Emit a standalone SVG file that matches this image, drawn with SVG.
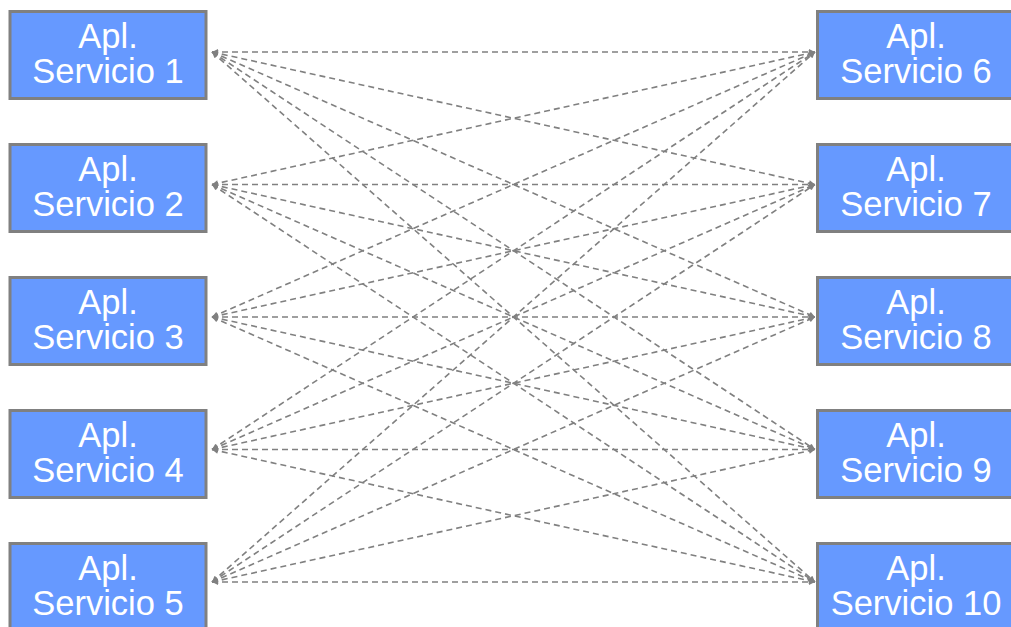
<svg xmlns="http://www.w3.org/2000/svg" width="1011" height="627" viewBox="0 0 1011 627">
<style>
.box{fill:#6699ff;stroke:#808080;stroke-width:3}
.t{font-family:"Liberation Sans",Arial,sans-serif;font-size:34.5px;fill:#ffffff;text-anchor:middle}
.c{stroke:#808080;stroke-width:1.6;stroke-dasharray:6,4;fill:none;marker-start:url(#ah);marker-end:url(#ah)}
</style>
<defs>
<marker id="ah" viewBox="0 0 10 10" refX="10" refY="5" markerWidth="7" markerHeight="6" markerUnits="userSpaceOnUse" orient="auto-start-reverse">
<path d="M0,0 L10,5 L0,10 Z" fill="#808080"/>
</marker>
</defs>
<rect width="1011" height="627" fill="#ffffff"/>
<g id="connectors">
<line class="c" x1="212" y1="52" x2="815" y2="52"/>
<line class="c" x1="212" y1="52" x2="815" y2="184.5"/>
<line class="c" x1="212" y1="52" x2="815" y2="317"/>
<line class="c" x1="212" y1="52" x2="815" y2="449.5"/>
<line class="c" x1="212" y1="52" x2="815" y2="582"/>
<line class="c" x1="212" y1="184.5" x2="815" y2="52"/>
<line class="c" x1="212" y1="184.5" x2="815" y2="184.5"/>
<line class="c" x1="212" y1="184.5" x2="815" y2="317"/>
<line class="c" x1="212" y1="184.5" x2="815" y2="449.5"/>
<line class="c" x1="212" y1="184.5" x2="815" y2="582"/>
<line class="c" x1="212" y1="317" x2="815" y2="52"/>
<line class="c" x1="212" y1="317" x2="815" y2="184.5"/>
<line class="c" x1="212" y1="317" x2="815" y2="317"/>
<line class="c" x1="212" y1="317" x2="815" y2="449.5"/>
<line class="c" x1="212" y1="317" x2="815" y2="582"/>
<line class="c" x1="212" y1="449.5" x2="815" y2="52"/>
<line class="c" x1="212" y1="449.5" x2="815" y2="184.5"/>
<line class="c" x1="212" y1="449.5" x2="815" y2="317"/>
<line class="c" x1="212" y1="449.5" x2="815" y2="449.5"/>
<line class="c" x1="212" y1="449.5" x2="815" y2="582"/>
<line class="c" x1="212" y1="582" x2="815" y2="52"/>
<line class="c" x1="212" y1="582" x2="815" y2="184.5"/>
<line class="c" x1="212" y1="582" x2="815" y2="317"/>
<line class="c" x1="212" y1="582" x2="815" y2="449.5"/>
<line class="c" x1="212" y1="582" x2="815" y2="582"/>
</g>
<g id="n1"><rect class="box" x="10" y="11.5" width="196" height="87"/><text class="t" x="108" y="48">Apl.</text><text class="t" x="108" y="83">Servicio 1</text></g>
<g id="n2"><rect class="box" x="10" y="144.5" width="196" height="87"/><text class="t" x="108" y="181">Apl.</text><text class="t" x="108" y="216">Servicio 2</text></g>
<g id="n3"><rect class="box" x="10" y="277.5" width="196" height="87"/><text class="t" x="108" y="314">Apl.</text><text class="t" x="108" y="349">Servicio 3</text></g>
<g id="n4"><rect class="box" x="10" y="410.5" width="196" height="87"/><text class="t" x="108" y="447">Apl.</text><text class="t" x="108" y="482">Servicio 4</text></g>
<g id="n5"><rect class="box" x="10" y="543.5" width="196" height="87"/><text class="t" x="108" y="580">Apl.</text><text class="t" x="108" y="615">Servicio 5</text></g>
<g id="n6"><rect class="box" x="817.5" y="11.5" width="196" height="87"/><text class="t" x="916" y="48">Apl.</text><text class="t" x="916" y="83">Servicio 6</text></g>
<g id="n7"><rect class="box" x="817.5" y="144.5" width="196" height="87"/><text class="t" x="916" y="181">Apl.</text><text class="t" x="916" y="216">Servicio 7</text></g>
<g id="n8"><rect class="box" x="817.5" y="277.5" width="196" height="87"/><text class="t" x="916" y="314">Apl.</text><text class="t" x="916" y="349">Servicio 8</text></g>
<g id="n9"><rect class="box" x="817.5" y="410.5" width="196" height="87"/><text class="t" x="916" y="447">Apl.</text><text class="t" x="916" y="482">Servicio 9</text></g>
<g id="n10"><rect class="box" x="817.5" y="543.5" width="196" height="87"/><text class="t" x="916" y="580">Apl.</text><text class="t" x="916" y="615">Servicio 10</text></g>
</svg>
